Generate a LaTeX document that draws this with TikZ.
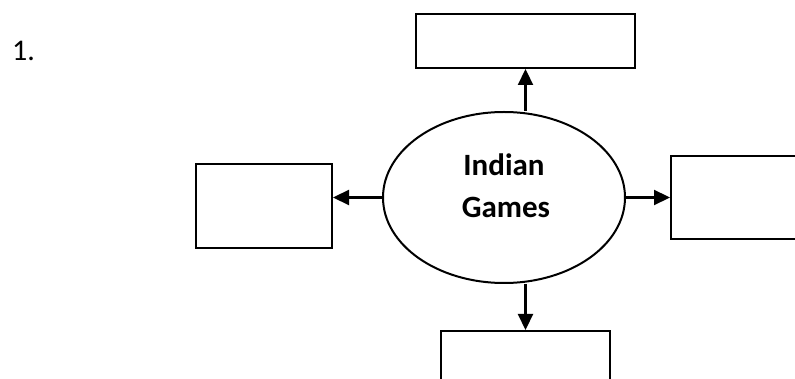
\documentclass[tikz,border=0pt]{standalone}
\usepackage{fontspec}
\setmainfont{Carlito}
\usetikzlibrary{arrows.meta,shapes.geometric}
\begin{document}
\begin{tikzpicture}[x=1pt,y=-1pt,
  boxnode/.style={draw,line width=2pt,rectangle,inner sep=0pt},
  arr/.style={line width=2.2pt,-{Triangle[length=16pt,width=15pt]}},
  ]
\useasboundingbox (0,0) rectangle (795,379);
\clip (0,0) rectangle (795,379);
\node[anchor=base west,font=\fontsize{30}{32}\selectfont,inner sep=0pt] (num) at (12,61) {1.};
\node[draw,line width=2pt,ellipse,minimum width=242pt,minimum height=171pt,inner sep=0pt] (ell) at (504,197.5) {};
\node[font=\bfseries\fontsize{31}{33}\selectfont,inner sep=0pt,anchor=base] (t1) at (504,176) {Indian};
\node[font=\bfseries\fontsize{31}{33}\selectfont,inner sep=0pt,anchor=base] (t2) at (506,218) {Games};
\node[boxnode,minimum width=219pt,minimum height=54pt] (top) at (525.5,41) {};
\node[boxnode,minimum width=136pt,minimum height=84pt] (left) at (264,206) {};
\node[boxnode,minimum width=140pt,minimum height=83pt] (right) at (741,197.5) {};
\node[boxnode,minimum width=169pt,minimum height=70pt] (bot) at (525.5,366) {};
\draw[arr] (ell.north -| top.south) -- (top.south);
\draw[arr] (ell.south -| bot.north) -- (bot.north);
\draw[arr] (ell.west) -- (ell.west -| left.east);
\draw[arr] (ell.east) -- (ell.east -| right.west);
\end{tikzpicture}
\end{document}
